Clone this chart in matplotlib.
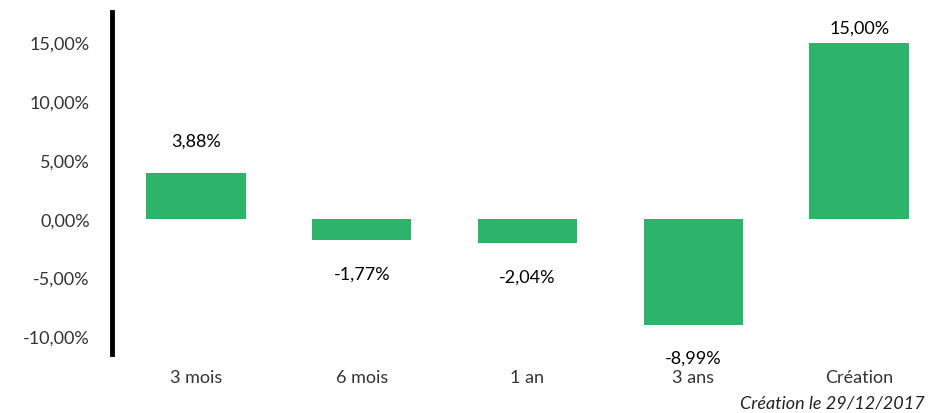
import matplotlib.pyplot as plt
from matplotlib.ticker import FuncFormatter

plt.rcParams['font.family'] = ['Lato', 'DejaVu Sans']

periods = ['3 mois', '6 mois', '1 an', '3 ans', 'Création']
perf = [3.88, -1.77, -2.04, -8.99, 15.00]
yticks = [-10, -5, 0, 5, 10, 15]
note = 'Création le 29/12/2017'

green = '#2db46b'

fig = plt.figure(figsize=(9.42, 4.14), dpi=100)
ax = fig.add_axes([112 / 942, 1 - 355 / 414, 1 - 112 / 942, (355 - 13) / 414])

x = range(len(periods))
ax.bar(x, perf, width=0.6, color=green, zorder=2)

ax.set_xlim(-0.506, 4.5)
ax.set_ylim(-11.5, 17.6)
ax.set_yticks(yticks)
ax.yaxis.set_major_formatter(FuncFormatter(lambda v, p: f"{v:.2f}%".replace('.', ',')))
ax.set_xticks(list(x))
ax.set_xticklabels(periods)

for s in ['top', 'right', 'bottom']:
    ax.spines[s].set_visible(False)
ax.spines['left'].set_linewidth(3.5)
ax.spines['left'].set_color('black')
ax.tick_params(axis='y', length=0, pad=16, labelsize=13, labelcolor='#333333')
ax.tick_params(axis='x', length=0, pad=11, labelsize=13, labelcolor='#333333')

top = ax.get_ylim()[1]
for xi, v in zip(x, perf):
    lab = f"{v:.2f}%".replace('.', ',')
    if v >= 0:
        y = min(v + 2.75, top - 1.3)
    else:
        y = v - 2.85
    ax.text(xi, y, lab, ha='center', va='center', fontsize=13, color='black')

fig.text(925 / 942, 1 - 404 / 414, note, ha='right', va='center', fontsize=13,
         style='italic', color='#222222')

fig.savefig('out.png', dpi=100)
